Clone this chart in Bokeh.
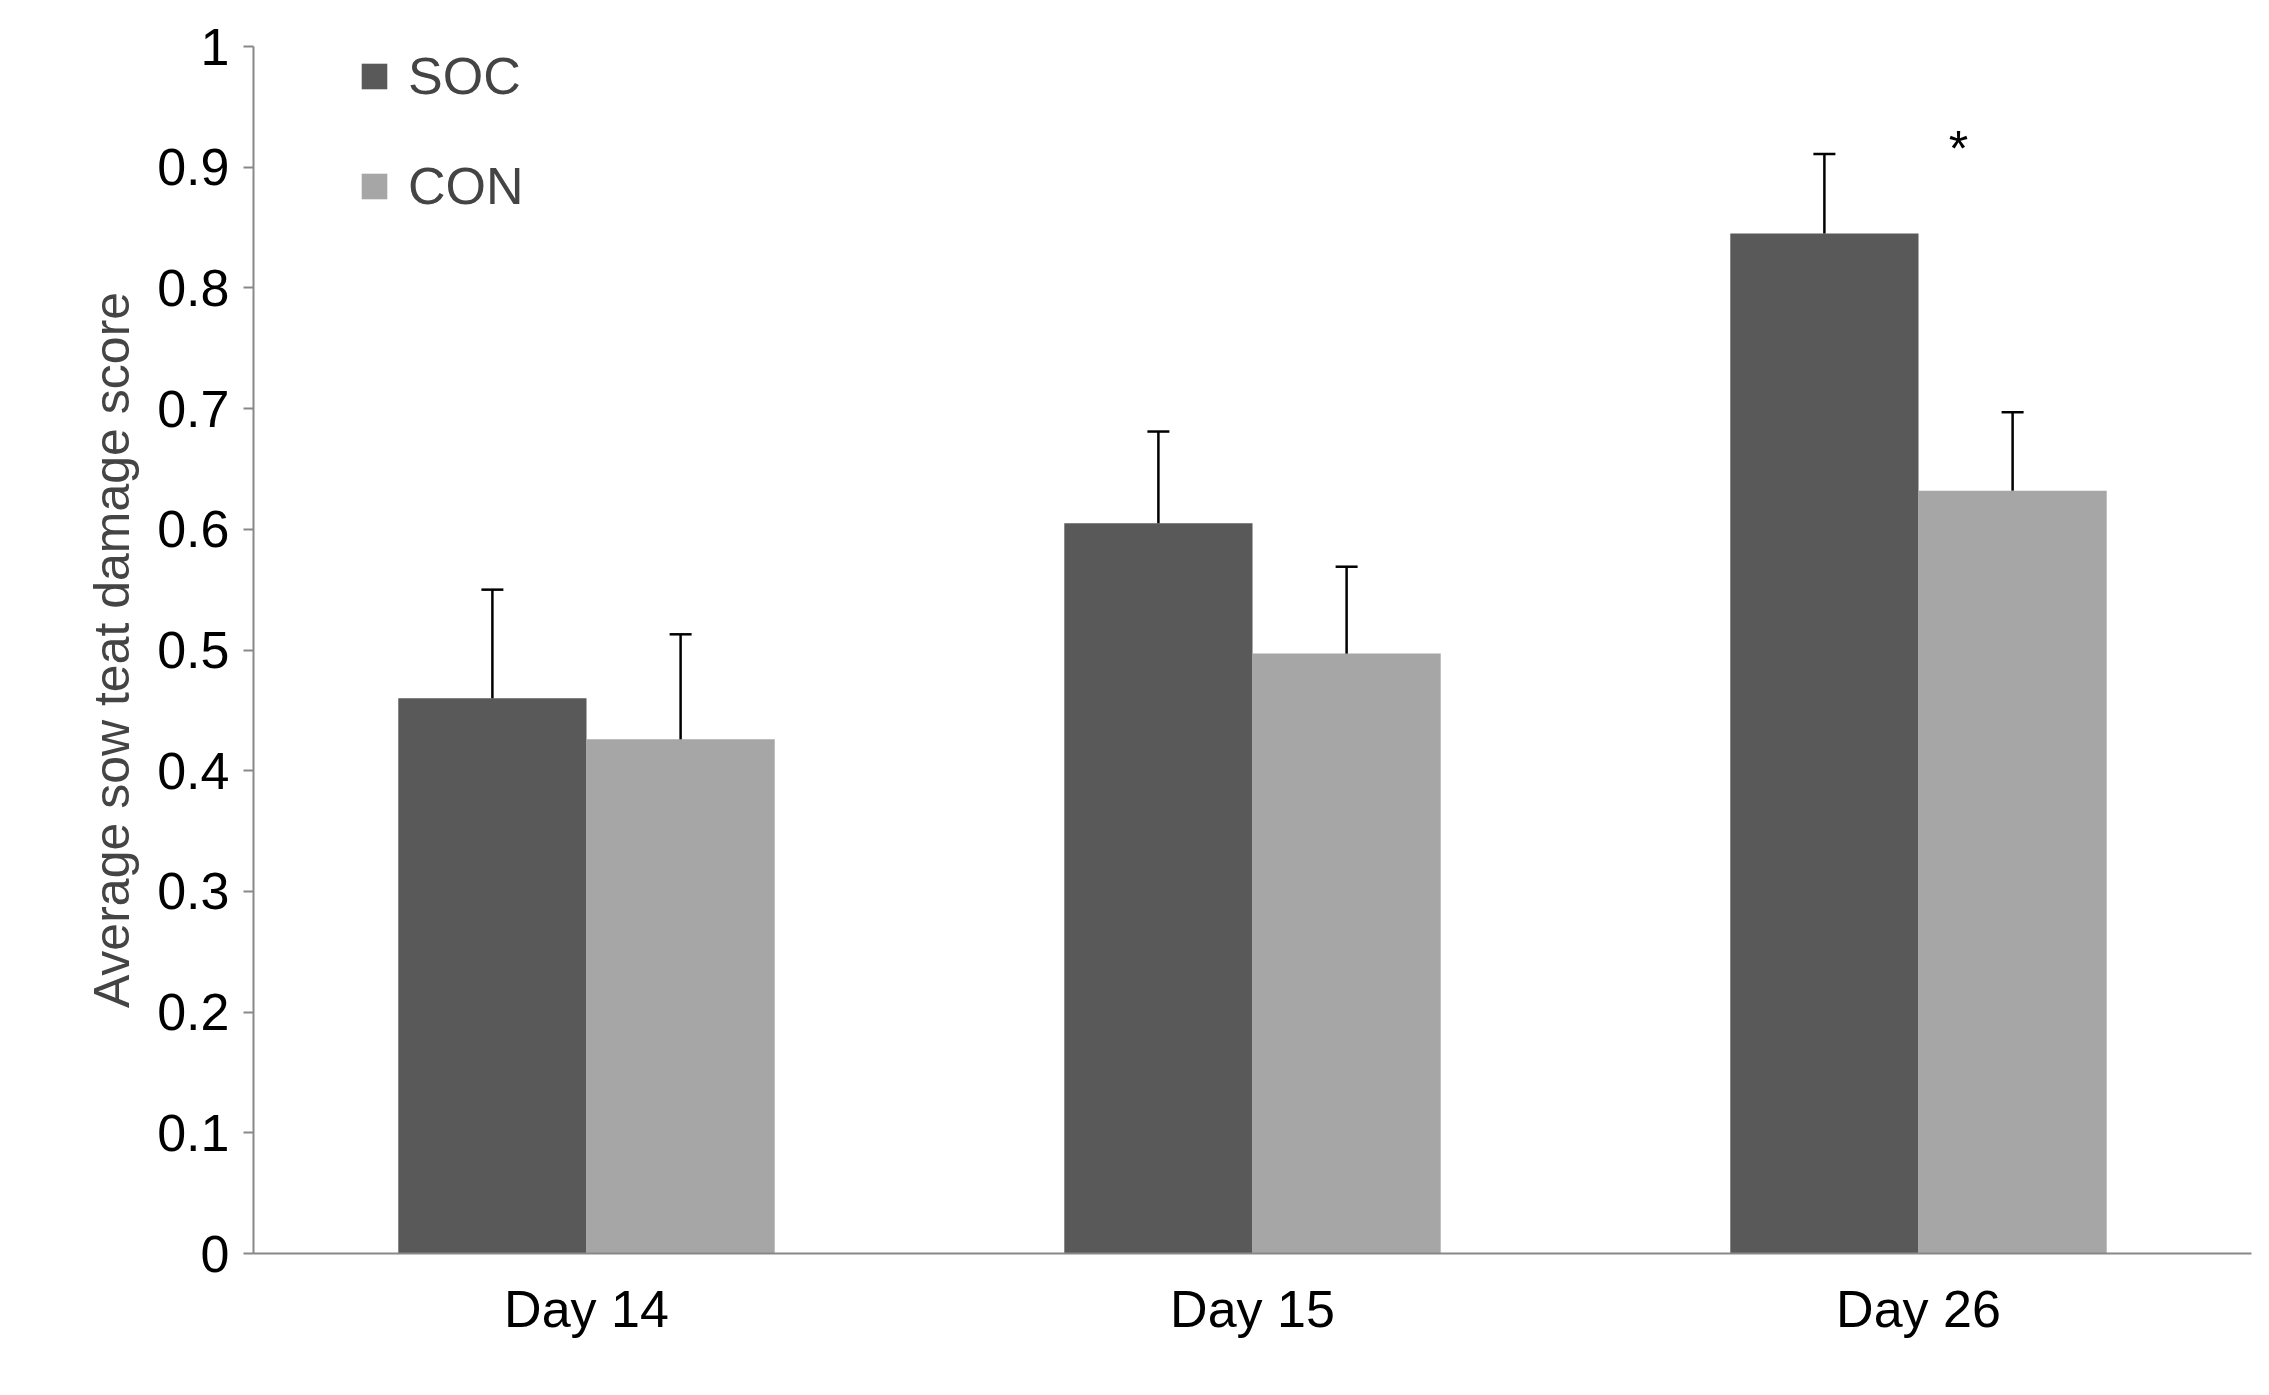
from bokeh.plotting import figure
from bokeh.models import ColumnDataSource, FixedTicker, Legend, LegendItem, Range1d
from bokeh.embed import file_html
from bokeh.resources import INLINE

days = ["Day 14", "Day 15", "Day 26"]
soc = [0.46, 0.605, 0.845]
soc_err = [0.09, 0.076, 0.066]
con = [0.426, 0.497, 0.632]
con_err = [0.087, 0.072, 0.065]
yticks = [0, 0.1, 0.2, 0.3, 0.4, 0.5, 0.6, 0.7, 0.8, 0.9, 1]

W, H = 2253, 1375
p = figure(width=W, height=H, output_backend="svg", toolbar_location=None,
           x_range=Range1d(0, 3), y_range=Range1d(0, 1),
           min_border_left=253, min_border_right=2, min_border_top=46, min_border_bottom=122)
p.outline_line_color = None
p.grid.visible = False
font = "Liberation Sans"
bw = 0.2826
xs = [i + 0.5 - bw / 2 for i in range(3)]
xc = [i + 0.5 + bw / 2 for i in range(3)]

s1 = ColumnDataSource(dict(x=xs, top=soc, up=[v + e for v, e in zip(soc, soc_err)]))
s2 = ColumnDataSource(dict(x=xc, top=con, up=[v + e for v, e in zip(con, con_err)]))
r1 = p.vbar(x="x", top="top", width=bw, source=s1, fill_color="#595959", line_color=None)
r2 = p.vbar(x="x", top="top", width=bw, source=s2, fill_color="#a6a6a6", line_color=None)
for s in (s1, s2):
    p.segment(x0="x", x1="x", y0="top", y1="up", source=s, line_color="black", line_width=2.5)
    p.dash(x="x", y="up", source=s, size=22, angle=0, line_color="black", line_width=2.5)

p.text(x=[2.56], y=[0.915], text=["*"], text_font_size="50px", text_align="center",
       text_baseline="middle", text_font={"value": font})

p.xaxis.ticker = FixedTicker(ticks=[0.5, 1.5, 2.5])
p.xaxis.major_label_overrides = {0.5: days[0], 1.5: days[1], 2.5: days[2]}
p.xaxis.major_tick_line_color = None
p.xaxis.minor_tick_line_color = None
p.yaxis.ticker = FixedTicker(ticks=yticks)
p.yaxis.major_label_overrides = {1: "1", 0: "0"}
p.yaxis.minor_tick_line_color = None
p.yaxis.major_tick_in = 0
p.yaxis.major_tick_out = 10
p.axis.axis_line_color = "#888888"
p.axis.major_tick_line_color = "#888888"
p.xaxis.major_tick_line_color = None
p.axis.axis_line_width = 2
p.axis.major_tick_line_width = 2
p.axis.major_label_text_font = font
p.axis.major_label_text_font_size = "52px"
p.axis.major_label_text_color = "black"
p.xaxis.major_label_standoff = 20
p.yaxis.major_label_standoff = 14
p.yaxis.axis_label = "Average sow teat damage score"
p.yaxis.axis_label_text_font = font
p.yaxis.axis_label_text_font_size = "50px"
p.yaxis.axis_label_text_font_style = "normal"
p.yaxis.axis_label_standoff = 14

leg = Legend(items=[LegendItem(label="SOC", renderers=[r1]), LegendItem(label="CON", renderers=[r2])],
             location=(95, -20), border_line_color=None, background_fill_alpha=0,
             label_text_font=font, label_text_font_size="52px", glyph_width=32, glyph_height=32,
             spacing=50, label_standoff=18)
p.add_layout(leg)
leg.location = "top_left"
leg.margin = 0
leg.padding = 0
leg.location = (105, 1375 - 46 - 122 - 170)

open("out.html", "w").write(file_html(p, INLINE))
